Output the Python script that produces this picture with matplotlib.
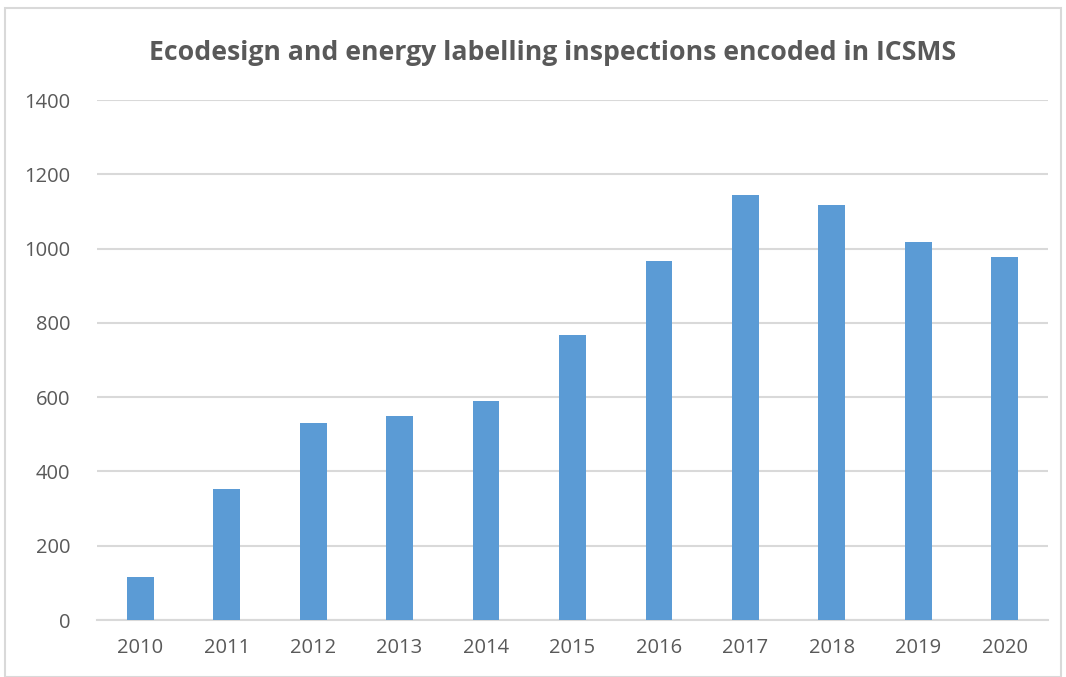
import matplotlib
matplotlib.use('Agg')
import matplotlib.pyplot as plt
from matplotlib.patches import Rectangle

# data
years = ['2010', '2011', '2012', '2013', '2014', '2015', '2016', '2017', '2018', '2019', '2020']
inspections = [117, 352, 531, 549, 590, 766, 967, 1143, 1116, 1019, 977]
y_ticks = [0, 200, 400, 600, 800, 1000, 1200, 1400]

BAR_COLOR = '#5B9BD5'
GRID_COLOR = '#D9D9D9'
TEXT_COLOR = '#595959'
FONT = ['Open Sans', 'DejaVu Sans']

W, H = 1066, 677
fig = plt.figure(figsize=(W/100, H/100), dpi=100)
plt.rcParams['font.family'] = FONT

# axes in pixel coords: left 97, right 1048, top 100, bottom 620
ax = fig.add_axes([97/W, 1 - 620/H, (1048-97)/W, (620-100)/H])

ax.bar(range(len(years)), inspections, width=0.31, color=BAR_COLOR, zorder=3)
ax.set_xlim(-0.5, len(years) - 0.5)
ax.set_ylim(0, 1400)
ax.set_yticks(y_ticks)
ax.set_xticks(range(len(years)))
ax.set_xticklabels(years)

ax.grid(axis='y', color=GRID_COLOR, linewidth=1.5, zorder=0)
for s in ['top', 'right', 'left']:
    ax.spines[s].set_visible(False)
ax.spines['bottom'].set_color(GRID_COLOR)
ax.spines['bottom'].set_linewidth(1.5)
ax.tick_params(axis='both', length=0, labelsize=14.5, labelcolor=TEXT_COLOR)
ax.tick_params(axis='x', pad=13)
ax.tick_params(axis='y', pad=19)

fig.text(553/W, 1 - 53/H, 'Ecodesign and energy labelling inspections encoded in ICSMS',
         ha='center', va='center', fontsize=19.2, fontweight='bold', color=TEXT_COLOR)

# chart frame
fig.patches.append(Rectangle((5/W, 0), (W-10)/W, 1 - 8/H, transform=fig.transFigure,
                             fill=False, edgecolor='#D9D9D9', linewidth=1.5))

fig.savefig('out.png', dpi=100)
